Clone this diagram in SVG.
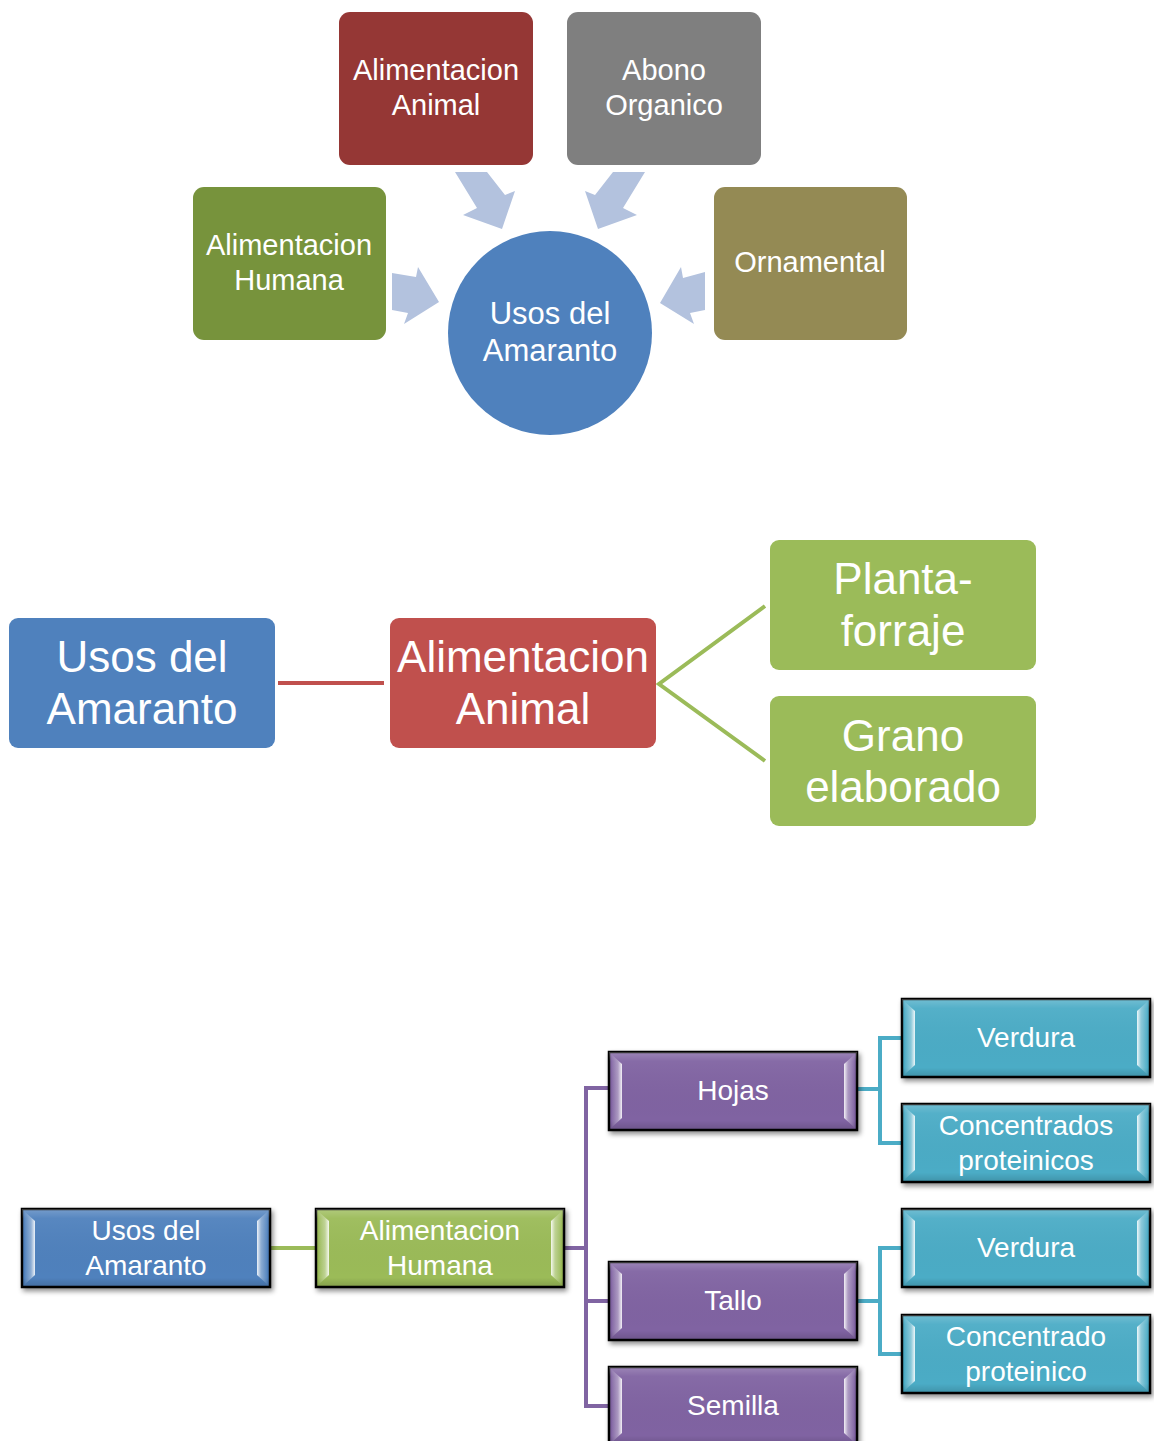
<svg xmlns="http://www.w3.org/2000/svg" width="1154" height="1441" viewBox="0 0 1154 1441">
<defs>
<style>
text{font-family:"Liberation Sans",Arial,sans-serif;fill:#fff;text-anchor:middle}
.t1{font-size:29px}
.tc{font-size:31px}
.t2{font-size:44px}
.t3{font-size:28px}
.arr{fill:#b3c2de}
.bx{stroke:#000;stroke-width:2.5}
.lnk{fill:none;stroke-width:4}
</style>
<filter id="sh" x="-10%" y="-20%" width="125%" height="150%">
<feDropShadow dx="2" dy="3" stdDeviation="2.5" flood-color="#000" flood-opacity="0.45"/>
</filter>
<linearGradient id="gloss" x1="0" y1="0" x2="0" y2="1">
<stop offset="0" stop-color="#fff" stop-opacity="0.22"/>
<stop offset="0.12" stop-color="#fff" stop-opacity="0.05"/>
<stop offset="0.88" stop-color="#000" stop-opacity="0"/>
<stop offset="1" stop-color="#000" stop-opacity="0.15"/>
</linearGradient>
<linearGradient id="bl" x1="0" y1="0" x2="1" y2="0">
<stop offset="0" stop-color="#fff" stop-opacity="0.05"/>
<stop offset="0.6" stop-color="#fff" stop-opacity="0.35"/>
<stop offset="1" stop-color="#fff" stop-opacity="0.9"/>
</linearGradient>
<linearGradient id="br" x1="1" y1="0" x2="0" y2="0">
<stop offset="0" stop-color="#fff" stop-opacity="0.05"/>
<stop offset="0.6" stop-color="#fff" stop-opacity="0.35"/>
<stop offset="1" stop-color="#fff" stop-opacity="0.9"/>
</linearGradient>
<g id="bev">
<rect x="0" y="0" width="248" height="78" fill="url(#gloss)"/>
<polygon points="3,3 13,12 13,66 3,75" fill="url(#bl)"/>
<polygon points="245,3 235,12 235,66 245,75" fill="url(#br)"/>
</g>
</defs>

<!-- Top diagram -->
<g id="connectors-top">
<polygon class="arr" points="455,172 487,172 505,195 515,191 502,229 463,215 477,208"/>
<polygon class="arr" points="645,172 613,172 595,195 585,191 598,229 637,215 623,208"/>
<polygon class="arr" points="392,273 416,277 418,267 439,302 404,324 408,313 392,310"/>
<polygon class="arr" points="705,272 683,278 681,267 660,303 694,324 690,313 705,310"/>
</g>
<g id="n-top-animal">
<rect x="339" y="12" width="194" height="153" rx="11" fill="#953735"/>
<text class="t1" x="436" y="80">Alimentacion</text>
<text class="t1" x="436" y="115">Animal</text>
</g>
<g id="n-top-abono">
<rect x="567" y="12" width="194" height="153" rx="11" fill="#7f7f7f"/>
<text class="t1" x="664" y="80">Abono</text>
<text class="t1" x="664" y="115">Organico</text>
</g>
<g id="n-top-humana">
<rect x="193" y="187" width="193" height="153" rx="11" fill="#77933c"/>
<text class="t1" x="289" y="255">Alimentacion</text>
<text class="t1" x="289" y="290">Humana</text>
</g>
<g id="n-top-ornamental">
<rect x="714" y="187" width="193" height="153" rx="11" fill="#948a54"/>
<text class="t1" x="810" y="272">Ornamental</text>
</g>
<g id="n-top-usos">
<circle cx="550" cy="333" r="102" fill="#4f81bd"/>
<text class="tc" x="550" y="324">Usos del</text>
<text class="tc" x="550" y="361">Amaranto</text>
</g>

<!-- Middle diagram -->
<g id="connectors-mid">
<line class="lnk" x1="278" y1="683" x2="384" y2="683" stroke="#c0504d" stroke-width="5"/>
<polyline class="lnk" points="765,606 659,684 765,761" stroke="#9bbb59"/>
</g>
<g id="n-mid-usos">
<rect x="9" y="618" width="266" height="130" rx="9" fill="#4f81bd"/>
<text class="t2" x="142" y="672">Usos del</text>
<text class="t2" x="142" y="724">Amaranto</text>
</g>
<g id="n-mid-animal">
<rect x="390" y="618" width="266" height="130" rx="9" fill="#c0504d"/>
<text class="t2" x="523" y="672">Alimentacion</text>
<text class="t2" x="523" y="724">Animal</text>
</g>
<g id="n-mid-planta">
<rect x="770" y="540" width="266" height="130" rx="9" fill="#9bbb59"/>
<text class="t2" x="903" y="594">Planta-</text>
<text class="t2" x="903" y="646">forraje</text>
</g>
<g id="n-mid-grano">
<rect x="770" y="696" width="266" height="130" rx="9" fill="#9bbb59"/>
<text class="t2" x="903" y="751">Grano</text>
<text class="t2" x="903" y="802">elaborado</text>
</g>

<!-- Bottom diagram -->
<g id="connectors-bottom">
<line class="lnk" x1="269" y1="1248" x2="316" y2="1248" stroke="#9bbb59"/>
<polyline class="lnk" points="563,1248 586,1248" stroke="#8064a2"/>
<polyline class="lnk" points="609,1088 586,1088 586,1406 609,1406" stroke="#8064a2"/>
<line class="lnk" x1="586" y1="1301" x2="609" y2="1301" stroke="#8064a2"/>
<line class="lnk" x1="857" y1="1089" x2="880" y2="1089" stroke="#4bacc6"/>
<polyline class="lnk" points="902,1038 880,1038 880,1143 902,1143" stroke="#4bacc6"/>
<line class="lnk" x1="857" y1="1301" x2="880" y2="1301" stroke="#4bacc6"/>
<polyline class="lnk" points="902,1248 880,1248 880,1354 902,1354" stroke="#4bacc6"/>
</g>
<g id="n-b-usos" transform="translate(22,1209)">
<rect class="bx" width="248" height="78" fill="#4f81bd" filter="url(#sh)"/>
<use href="#bev"/>
<text class="t3" x="124" y="31">Usos del</text>
<text class="t3" x="124" y="66">Amaranto</text>
</g>
<g id="n-b-humana" transform="translate(316,1209)">
<rect class="bx" width="248" height="78" fill="#9bbb59" filter="url(#sh)"/>
<use href="#bev"/>
<text class="t3" x="124" y="31">Alimentacion</text>
<text class="t3" x="124" y="66">Humana</text>
</g>
<g id="n-b-hojas" transform="translate(609,1052)">
<rect class="bx" width="248" height="78" fill="#8064a2" filter="url(#sh)"/>
<use href="#bev"/>
<text class="t3" x="124" y="48">Hojas</text>
</g>
<g id="n-b-tallo" transform="translate(609,1262)">
<rect class="bx" width="248" height="78" fill="#8064a2" filter="url(#sh)"/>
<use href="#bev"/>
<text class="t3" x="124" y="48">Tallo</text>
</g>
<g id="n-b-semilla" transform="translate(609,1367)">
<rect class="bx" width="248" height="78" fill="#8064a2" filter="url(#sh)"/>
<use href="#bev"/>
<text class="t3" x="124" y="48">Semilla</text>
</g>
<g id="n-b-verdura1" transform="translate(902,999)">
<rect class="bx" width="248" height="78" fill="#4bacc6" filter="url(#sh)"/>
<use href="#bev"/>
<text class="t3" x="124" y="48">Verdura</text>
</g>
<g id="n-b-concentrados" transform="translate(902,1104)">
<rect class="bx" width="248" height="78" fill="#4bacc6" filter="url(#sh)"/>
<use href="#bev"/>
<text class="t3" x="124" y="31">Concentrados</text>
<text class="t3" x="124" y="66">proteinicos</text>
</g>
<g id="n-b-verdura2" transform="translate(902,1209)">
<rect class="bx" width="248" height="78" fill="#4bacc6" filter="url(#sh)"/>
<use href="#bev"/>
<text class="t3" x="124" y="48">Verdura</text>
</g>
<g id="n-b-concentrado" transform="translate(902,1315)">
<rect class="bx" width="248" height="78" fill="#4bacc6" filter="url(#sh)"/>
<use href="#bev"/>
<text class="t3" x="124" y="31">Concentrado</text>
<text class="t3" x="124" y="66">proteinico</text>
</g>
</svg>
